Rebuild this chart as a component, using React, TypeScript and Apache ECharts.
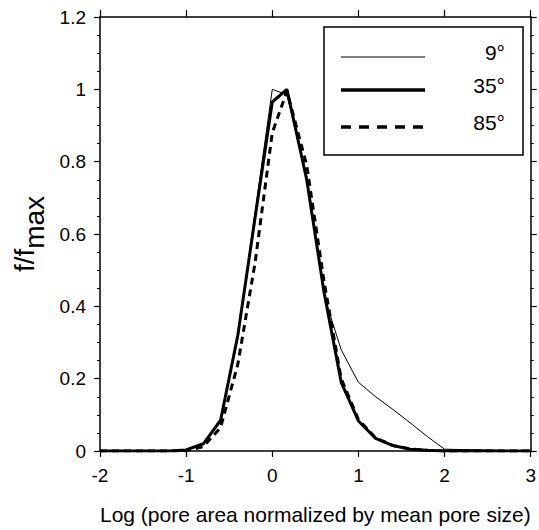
import React, { useEffect, useRef } from "react";
import * as echarts from "echarts";

const seriesNames = ["9°", "35°", "85°"];
const xs9 = [-2, -1.2, -1.0, -0.8, -0.6, -0.4, -0.2, 0, 0.17, 0.4, 0.6, 0.8, 1.0, 1.2, 1.4, 1.6, 1.8, 2.0, 3];
const ys9 = [0, 0, 0.003, 0.02, 0.085, 0.31, 0.66, 1.0, 0.985, 0.76, 0.43, 0.28, 0.19, 0.15, 0.115, 0.078, 0.04, 0.005, 0];
const xs35 = [-2, -1.2, -1.0, -0.8, -0.6, -0.4, -0.2, 0, 0.17, 0.4, 0.6, 0.8, 1.0, 1.2, 1.4, 1.6, 1.8, 2.0, 3];
const ys35 = [0, 0, 0.003, 0.02, 0.085, 0.32, 0.645, 0.965, 1.0, 0.75, 0.44, 0.19, 0.083, 0.035, 0.015, 0.005, 0.002, 0, 0];
const xs85 = [-2, -1.2, -1.0, -0.8, -0.6, -0.4, -0.2, 0, 0.17, 0.4, 0.6, 0.8, 1.0, 1.2, 1.4, 1.6, 1.8, 2.0, 3];
const ys85 = [0, 0, 0.001, 0.012, 0.065, 0.24, 0.52, 0.88, 0.995, 0.79, 0.47, 0.2, 0.087, 0.036, 0.015, 0.006, 0.002, 0, 0];

const xMin = -2, xMax = 3, xStep = 1;
const yMin = 0, yMax = 1.2, yStep = 0.2;

const FONT = "Liberation Sans";

function zip(xs: number[], ys: number[]) {
  return xs.map((x, i) => [x, ys[i]]);
}

export default function App() {
  const ref = useRef<HTMLDivElement>(null);
  useEffect(() => {
    if (!ref.current) return;
    const chart = echarts.init(ref.current, null, { renderer: "svg" });
    const axisLine = { show: true, onZero: false, lineStyle: { color: "#000", width: 1.5 } };
    const xCommon = {
      type: "value" as const,
      min: xMin,
      max: xMax,
      interval: xStep,
      axisLine,
      splitLine: { show: false },
      axisTick: { show: true, length: 6, lineStyle: { color: "#000", width: 1.2 } },
      minorTick: { show: false },
    };
    const yCommon = {
      type: "value" as const,
      min: yMin,
      max: yMax,
      interval: yStep,
      axisLine,
      splitLine: { show: false },
      axisTick: { show: true, length: 6, lineStyle: { color: "#000", width: 1.2 } },
      minorTick: { show: true, splitNumber: 4, length: 3, lineStyle: { color: "#000", width: 1 } },
    };
    const legendRows = [
      { y: 57, width: 1, dash: null as any },
      { y: 90, width: 3.5, dash: null as any },
      { y: 127, width: 3.5, dash: [10, 8] },
    ];
    const graphic: any[] = [
      {
        type: "rect",
        shape: { x: 324, y: 27, width: 199, height: 128 },
        style: { fill: "#fff", stroke: "#000", lineWidth: 1.5 },
        z: 10,
      },
    ];
    legendRows.forEach((r, i) => {
      graphic.push({
        type: "line",
        shape: { x1: 341, y1: r.y, x2: 425, y2: r.y },
        style: { stroke: "#000", lineWidth: r.width, lineDash: r.dash || undefined },
        z: 11,
      });
      graphic.push({
        type: "text",
        x: 505,
        y: r.y - 5,
        style: {
          text: seriesNames[i],
          fill: "#000",
          font: `21px "${FONT}"`,
          textAlign: "right",
          textVerticalAlign: "middle",
        },
        z: 11,
      });
    });
    chart.setOption({
      animation: false,
      backgroundColor: "#fff",
      grid: { left: 100, right: 6, top: 17, bottom: 78, containLabel: false },
      xAxis: [
        {
          ...xCommon,
          position: "bottom",
          name: "Log (pore area normalized by mean pore size)",
          nameLocation: "middle",
          nameGap: 53,
          nameTextStyle: { fontFamily: FONT, fontSize: 21, color: "#000" },
          axisLabel: { fontFamily: FONT, fontSize: 19, color: "#000", margin: 15 },
        },
        { ...xCommon, position: "top", axisLabel: { show: false }, axisTick: { ...xCommon.axisTick, length: 7 } },
      ],
      yAxis: [
        {
          ...yCommon,
          position: "left",
          name: "{a|f/f}{b|max}",
          nameLocation: "middle",
          nameGap: 58,
          nameRotate: 90,
          nameTextStyle: {
            fontFamily: FONT,
            color: "#000",
            rich: {
              a: { fontFamily: FONT, fontSize: 28, color: "#000", verticalAlign: "bottom", lineHeight: 34 },
              b: { fontFamily: FONT, fontSize: 28, color: "#000", verticalAlign: "bottom", lineHeight: 34, padding: [0, 0, -10, 0] },
            },
          },
          axisLabel: { fontFamily: FONT, fontSize: 19, color: "#000", margin: 14 },
        },
        { ...yCommon, position: "right", axisLabel: { show: false } },
      ],
      series: [
        {
          name: seriesNames[0],
          type: "line",
          data: zip(xs9, ys9),
          showSymbol: false,
          symbol: "none",
          lineStyle: { color: "#000", width: 1 },
          z: 3,
        },
        {
          name: seriesNames[1],
          type: "line",
          data: zip(xs35, ys35),
          showSymbol: false,
          symbol: "none",
          lineStyle: { color: "#000", width: 3 },
          z: 2,
        },
        {
          name: seriesNames[2],
          type: "line",
          data: zip(xs85, ys85),
          showSymbol: false,
          symbol: "none",
          lineStyle: { color: "#000", width: 3, type: [7, 5] },
          z: 2,
        },
      ],
      graphic,
    });
    return () => chart.dispose();
  }, []);
  return (
    <div
      ref={ref}
      style={{ position: "absolute", left: 0, top: 0, width: 539, height: 530, background: "#fff" }}
    />
  );
}
